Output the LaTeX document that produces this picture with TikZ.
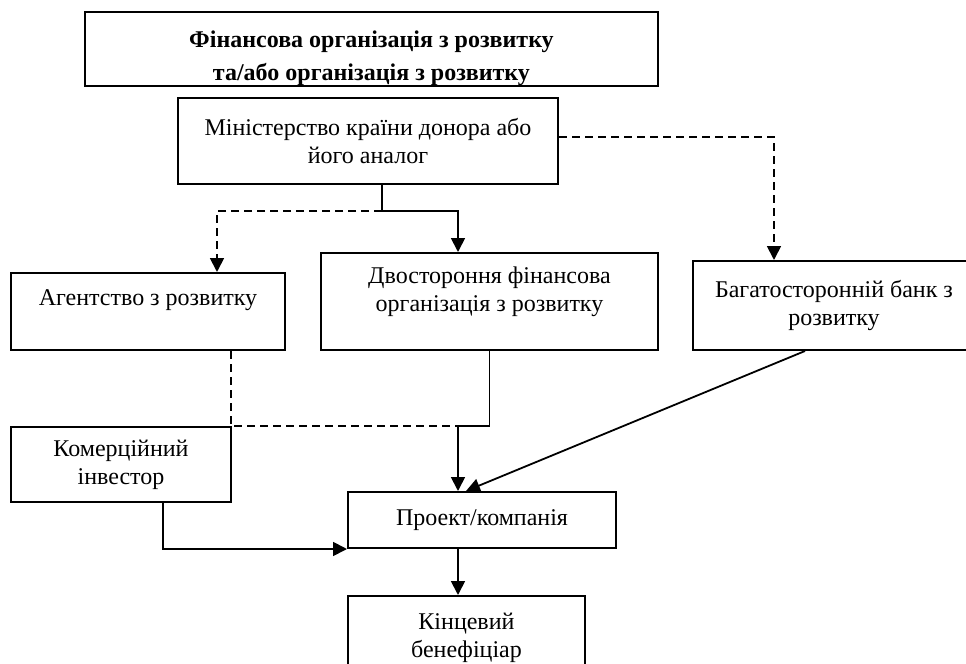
\documentclass[tikz,border=0pt]{standalone}
\usepackage{fontspec}
\setmainfont{Liberation Serif}
\usetikzlibrary{arrows.meta}

\tikzset{
  box/.style={draw, line width=1pt, align=center, inner sep=2pt,
    font=\fontsize{12}{14}\selectfont},
  link/.style={line width=0.9pt},
  arr/.style={-{Triangle[length=7pt,width=7pt]}},
  dsh/.style={dash pattern=on 4pt off 2.5pt},
}

\begin{document}
\begin{tikzpicture}[x=0.5pt,y=-0.5pt]
    \useasboundingbox (0,0) rectangle (966,664);
    \clip (0,0) rectangle (966,664);

    % boxes
    \node[box, inner ysep=0pt, minimum width=286.5pt, minimum height=36pt,
      font=\fontsize{12}{16.5}\selectfont\bfseries] (fin) at (371.5,49)
      {\mbox{}\\[1pt]Фінансова організація з розвитку\\та/або організація з розвитку};
    \node[box, minimum width=190pt, minimum height=43pt] (min) at (368,141)
      {Міністерство країни донора або\\його аналог};
    \node[box, minimum width=137pt, minimum height=38.5pt] (agency) at (148,311.5)
      {Агентство з розвитку\\\mbox{}};
    \node[box, minimum width=168.5pt, minimum height=48.5pt] (bilat) at (489.5,301.5)
      {Двостороння фінансова\\організація з розвитку\\[-2pt]\mbox{}};
    \node[box, minimum width=141pt, minimum height=44.5pt] (bank) at (834,305.5)
      {Багатосторонній банк з\\розвитку};
    \node[box, minimum width=110pt, minimum height=37.5pt] (invest) at (121,464.5)
      {Комерційний\\інвестор};
    \node[box, minimum width=134pt, minimum height=28pt] (proj) at (482,520)
      {Проект/компанія};
    \node[box, minimum width=118.5pt, minimum height=42pt] (benef) at (466.5,638)
      {Кінцевий\\бенефіціар};

    \coordinate (split) at (382,211);
    \coordinate (merge) at (458,426);

    % connectors
    \draw[link] ([xshift=7pt]min.south) -- (split);
    \draw[link, dsh, arr] (split) -| ([xshift=34.5pt]agency.north);
    \draw[link, arr] (split) -| ([xshift=-15.75pt]bilat.north);
    \draw[link, dsh, arr] ([yshift=2pt]min.east) -| ([xshift=-30pt]bank.north);
    \draw[link, dsh] ([xshift=41.5pt]agency.south) |- (merge);
    \draw[link, arr] (bilat.south) |- (merge) -- (proj.north -| merge);
    \draw[link, arr] ([xshift=-14.5pt]bank.south) -- ([xshift=-8pt]proj.north);
    \draw[link, arr] ([xshift=21pt]invest.south) |- (proj.south west);
    \draw[link, arr] (proj.south -| merge) -- (benef.north -| merge);
\end{tikzpicture}
\end{document}
